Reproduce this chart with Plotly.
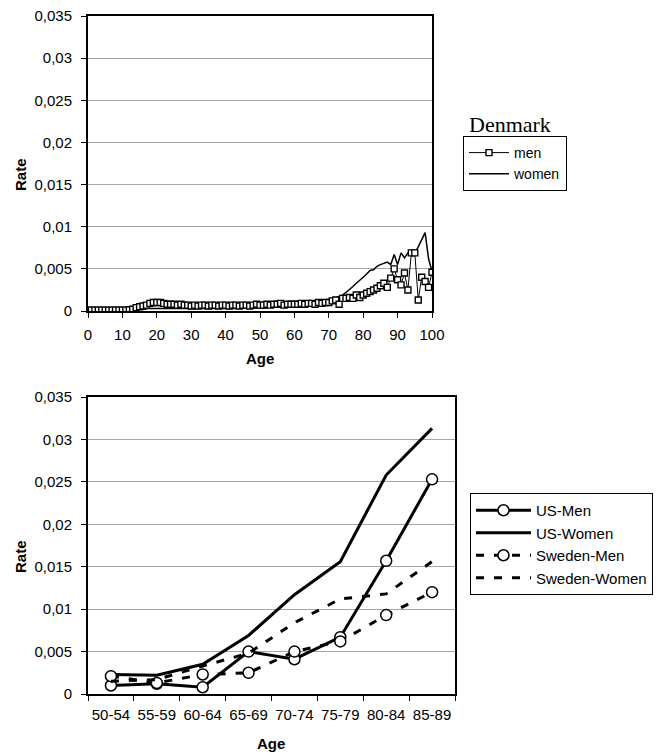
import plotly.graph_objects as go

# ---------------- data ----------------
ages = list(range(0, 101))
dk_men = [
    0.0001, 0.0001, 0.0001, 0.0001, 0.0001, 0.0001, 0.0001, 0.0001, 0.0001, 0.0001,   # 0-9
    0.0001, 0.0001, 0.00015, 0.0002, 0.0004, 0.0005, 0.0006, 0.0007, 0.0009, 0.001,   # 10-19
    0.001, 0.001, 0.0009, 0.0008, 0.0008, 0.0008, 0.0007, 0.0008, 0.0007, 0.0007,     # 20-29
    0.0006, 0.0007, 0.0006, 0.0007, 0.0007, 0.0006, 0.0007, 0.0007, 0.0006, 0.0007,   # 30-39
    0.0007, 0.0006, 0.0007, 0.0007, 0.0006, 0.0007, 0.0007, 0.0006, 0.0007, 0.0008,   # 40-49
    0.0007, 0.0007, 0.0008, 0.0007, 0.0008, 0.0008, 0.0009, 0.0007, 0.0008, 0.0008,   # 50-59
    0.0008, 0.0008, 0.0009, 0.0008, 0.0009, 0.0009, 0.0008, 0.001, 0.0009, 0.001,     # 60-69
    0.001, 0.0012, 0.0013, 0.0008, 0.0015, 0.0015, 0.0016, 0.0015, 0.0019, 0.0016,    # 70-79
    0.0019, 0.0021, 0.0023, 0.0025, 0.0027, 0.003, 0.0033, 0.0028, 0.0039, 0.005,     # 80-89
    0.0037, 0.0031, 0.0045, 0.0025, 0.0069, 0.0069, 0.0013, 0.004, 0.0035, 0.0028,    # 90-99
    0.0046,                                                                           # 100
]
dk_women = [
    0.0002, 0.0001, 0.0001, 0.0001, 0.0001, 0.0001, 0.0001, 0.0001, 0.0001, 0.0001,   # 0-9
    0.0001, 0.0001, 0.0001, 0.0001, 0.0001, 0.0002, 0.0002, 0.0003, 0.0003, 0.0003,   # 10-19
    0.0003, 0.0003, 0.0003, 0.0003, 0.0003, 0.0003, 0.0003, 0.0003, 0.0003, 0.0003,   # 20-29
    0.0003, 0.0003, 0.0003, 0.0003, 0.0003, 0.0003, 0.0003, 0.0003, 0.0003, 0.0003,   # 30-39
    0.0003, 0.0003, 0.0003, 0.0003, 0.0003, 0.0004, 0.0004, 0.0004, 0.0004, 0.0004,   # 40-49
    0.0004, 0.0004, 0.0004, 0.0005, 0.0005, 0.0005, 0.0005, 0.0005, 0.0006, 0.0006,   # 50-59
    0.0006, 0.0007, 0.0007, 0.0007, 0.0008, 0.0008, 0.0009, 0.0009, 0.001, 0.0011,    # 60-69
    0.0012, 0.0014, 0.0016, 0.0017, 0.0019, 0.0022, 0.0025, 0.0029, 0.0033, 0.0036,   # 70-79
    0.004, 0.0044, 0.0048, 0.0049, 0.0053, 0.0055, 0.0057, 0.0058, 0.0055, 0.0067,    # 80-89
    0.0055, 0.0069, 0.0063, 0.0069, 0.0068, 0.0069, 0.0076, 0.0085, 0.0093, 0.0062,   # 90-99
    0.0047,                                                                           # 100
]

age_groups = ["50-54", "55-59", "60-64", "65-69", "70-74", "75-79", "80-84", "85-89"]
us_men = [0.0010, 0.0012, 0.0008, 0.0050, 0.0041, 0.0067, 0.0157, 0.0253]
us_women = [0.0023, 0.0022, 0.0035, 0.0069, 0.0117, 0.0156, 0.0258, 0.0313]
sweden_men = [0.0021, 0.0013, 0.0023, 0.0025, 0.0050, 0.0062, 0.0093, 0.0120]
sweden_women = [0.0015, 0.0017, 0.0033, 0.0048, 0.0084, 0.0112, 0.0118, 0.0156]

y_tickvals = [0, 0.005, 0.01, 0.015, 0.02, 0.025, 0.03, 0.035]
y_ticktext = ["0", "0,005", "0,01", "0,015", "0,02", "0,025", "0,03", "0,035"]
x_tickvals_top = [0, 10, 20, 30, 40, 50, 60, 70, 80, 90, 100]

# ---------------- figure ----------------
W, H = 664, 752
FONT = "Liberation Sans, Arial, sans-serif"

def px_x(p):
    return p / W

def px_y(p):
    return 1 - p / H

fig = go.Figure()

# Denmark
fig.add_trace(go.Scatter(
    x=ages, y=dk_women, mode="lines", name="women",
    line=dict(color="black", width=1.5),
    xaxis="x", yaxis="y", legend="legend",
))
fig.add_trace(go.Scatter(
    x=ages, y=dk_men, mode="lines+markers", name="men",
    line=dict(color="black", width=1),
    marker=dict(symbol="square", size=6, color="white",
                line=dict(color="black", width=1.4)),
    xaxis="x", yaxis="y", legend="legend",
))

# US / Sweden
fig.add_trace(go.Scatter(
    x=age_groups, y=us_men, mode="lines+markers", name="US-Men",
    line=dict(color="black", width=3),
    marker=dict(symbol="circle", size=11, color="white",
                line=dict(color="black", width=1.5)),
    xaxis="x2", yaxis="y2", legend="legend2",
))
fig.add_trace(go.Scatter(
    x=age_groups, y=us_women, mode="lines", name="US-Women",
    line=dict(color="black", width=3),
    xaxis="x2", yaxis="y2", legend="legend2",
))
fig.add_trace(go.Scatter(
    x=age_groups, y=sweden_men, mode="lines+markers", name="Sweden-Men",
    line=dict(color="black", width=3, dash="8px,10px"),
    marker=dict(symbol="circle", size=11, color="white",
                line=dict(color="black", width=1.5)),
    xaxis="x2", yaxis="y2", legend="legend2",
))
fig.add_trace(go.Scatter(
    x=age_groups, y=sweden_women, mode="lines", name="Sweden-Women",
    line=dict(color="black", width=3, dash="8px,10px"),
    xaxis="x2", yaxis="y2", legend="legend2",
))

axis_common = dict(
    showline=True, linecolor="black", linewidth=2, mirror=True,
    ticks="outside", ticklen=5, tickcolor="black", tickwidth=1,
    tickfont=dict(family=FONT, size=15, color="black"),
    zeroline=False, automargin=False, tickangle=0,
)

fig.update_layout(
    width=W, height=H,
    margin=dict(l=0, r=0, t=0, b=0, autoexpand=False),
    paper_bgcolor="white", plot_bgcolor="white",
    font=dict(family=FONT, color="black"),
    xaxis=dict(domain=[px_x(88), px_x(432)], range=[0, 100],
               tickvals=x_tickvals_top, showgrid=False, anchor="y",
               ticklabelstandoff=4, **axis_common),
    yaxis=dict(domain=[px_y(311), px_y(16)], range=[0, 0.035],
               tickvals=y_tickvals, ticktext=y_ticktext,
               showgrid=True, gridcolor="#a6a6a6", gridwidth=1, anchor="x",
               ticklabelstandoff=6, **axis_common),
    xaxis2=dict(domain=[px_x(88), px_x(455)], type="category",
                range=[-0.5, 7.5], tickson="boundaries", showgrid=False,
                anchor="y2", ticklabelstandoff=6, **axis_common),
    yaxis2=dict(domain=[px_y(694), px_y(397)], range=[0, 0.035],
                tickvals=y_tickvals, ticktext=y_ticktext,
                showgrid=True, gridcolor="#a6a6a6", gridwidth=1, anchor="x2",
                ticklabelstandoff=6, **axis_common),
    legend=dict(
        x=px_x(463), y=px_y(136), xanchor="left", yanchor="top",
        bordercolor="black", borderwidth=1, bgcolor="white",
        font=dict(family=FONT, size=14, color="black"),
        traceorder="reversed", itemwidth=40,
    ),
    legend2=dict(
        x=px_x(470), y=px_y(493), xanchor="left", yanchor="top",
        bordercolor="black", borderwidth=1, bgcolor="white",
        font=dict(family=FONT, size=15, color="black"),
        traceorder="normal", itemwidth=55,
    ),
    annotations=[
        dict(text="Denmark", x=px_x(467), y=px_y(125), xref="paper", yref="paper",
             xanchor="left", yanchor="middle", showarrow=False,
             font=dict(family="Liberation Serif, Times New Roman, serif", size=22, color="black")),
        dict(text="<b>Rate</b>", x=px_x(20), y=px_y(175), xref="paper", yref="paper",
             xanchor="center", yanchor="middle", showarrow=False, textangle=-90,
             font=dict(family=FONT, size=15, color="black")),
        dict(text="<b>Age</b>", x=px_x(260), y=px_y(358), xref="paper", yref="paper",
             xanchor="center", yanchor="middle", showarrow=False,
             font=dict(family=FONT, size=15, color="black")),
        dict(text="<b>Rate</b>", x=px_x(20), y=px_y(557), xref="paper", yref="paper",
             xanchor="center", yanchor="middle", showarrow=False, textangle=-90,
             font=dict(family=FONT, size=15, color="black")),
        dict(text="<b>Age</b>", x=px_x(271), y=px_y(743), xref="paper", yref="paper",
             xanchor="center", yanchor="middle", showarrow=False,
             font=dict(family=FONT, size=15, color="black")),
    ],
)

fig.write_html("out.html", config={"displayModeBar": False},
               post_script="document.body.style.margin='0px';")
